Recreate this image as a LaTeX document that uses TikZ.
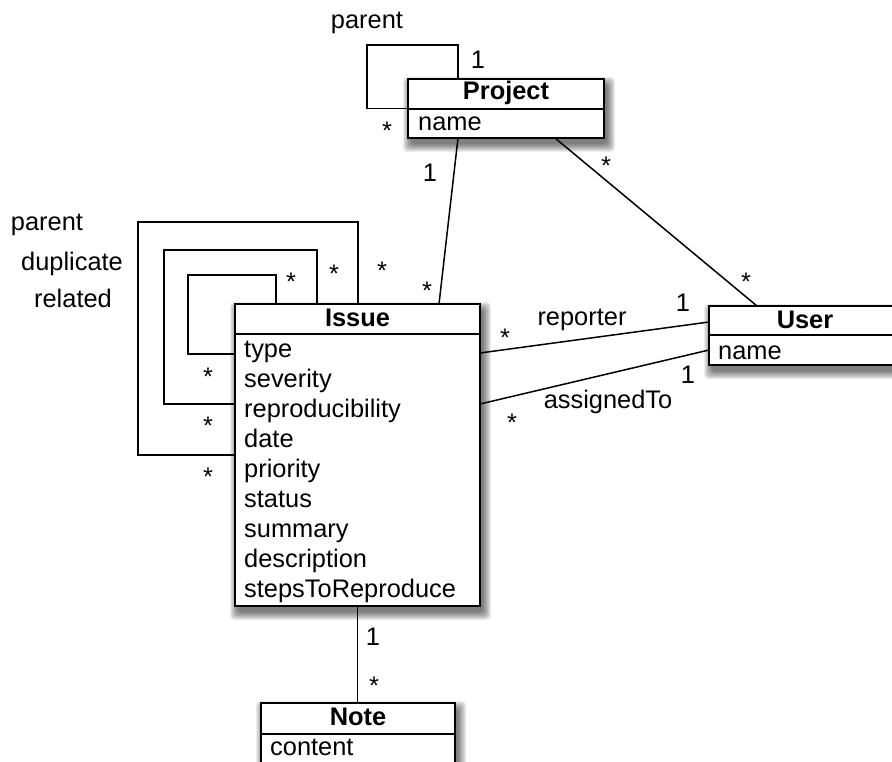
\documentclass[tikz,border=0pt]{standalone}
\usepackage{fontspec}
\setmainfont{Liberation Sans}
\usetikzlibrary{calc}
\pgfdeclarelayer{bg}
\pgfsetlayers{bg,main}

% soft drop shadow built from stacked translucent rectangles
\newcommand\softshadow[1]{%
  \foreach \r in {0,1,...,8}
    \fill[black, opacity=0.075, rounded corners=4pt]
      ($(#1.north west)+(3-8+\r,6-8+\r)$) rectangle ($(#1.south east)+(3+8-\r,6+8-\r)$);}

\begin{document}
\begin{tikzpicture}[x=1pt,y=-1pt,
  classbox/.style={draw, line width=1.7pt, fill=white, inner sep=0pt, outer sep=0pt,
    anchor=north west},
  divider/.style={line width=1.7pt},
  title/.style={font=\fontsize{25.4}{30}\selectfont\bfseries, anchor=base, inner sep=0pt},
  attr/.style={font=\fontsize{25.4}{30}\selectfont, anchor=base west, inner sep=0pt},
  lbl/.style={font=\fontsize{25.4}{30}\selectfont, anchor=base, inner sep=0pt},
  assoc/.style={line width=1.5pt},
  selfloop/.style={line width=1.6pt}]
\useasboundingbox (0,0) rectangle (892,762);
\clip (0,0) rectangle (892,762);

% ---------- classes ----------
\node[classbox, minimum width=196pt, minimum height=59pt] (project) at (408,79) {};
\draw[divider] ($(project.north west)+(0,30)$) -- ($(project.north east)+(0,30)$);
\node[title] (projectT) at (506,100) {Project};
\node[attr] (projectA) at (418,131) {name};

\node[classbox, minimum width=245pt, minimum height=302pt] (issue) at (235,304) {};
\draw[divider] ($(issue.north west)+(0,30)$) -- ($(issue.north east)+(0,30)$);
\node[title] (issueT) at (357.5,326) {Issue};
\foreach \t [count=\i from 0] in {type,severity,reproducibility,date,priority,status,summary,description,stepsToReproduce}
  \node[attr] (issueA\i) at (244,357+30.1*\i) {\t};

\node[classbox, minimum width=250pt, minimum height=59pt] (user) at (709,306) {};
\draw[divider] ($(user.north west)+(0,29)$) -- ($(user.north east)+(0,29)$);
\node[title] (userT) at (805,328) {User};
\node[attr] (userA) at (718,359) {name};

\node[classbox, minimum width=194pt, minimum height=90pt] (note) at (261,703) {};
\draw[divider] ($(note.north west)+(0,31)$) -- ($(note.north east)+(0,31)$);
\node[title] (noteT) at (358,725) {Note};
\node[attr] (noteA) at (270,755) {content};

% ---------- shadows and self associations, behind the boxes ----------
\begin{pgfonlayer}{bg}
  \softshadow{project}
  \softshadow{issue}
  \softshadow{user}
  \softshadow{note}
  \draw[selfloop] ($(project.north west)+(50,0)$) |- (367,45) |- (project.west);
  \draw[selfloop] ($(issue.north west)+(123,0)$) |- (138,222) |- ($(issue.north west)+(0,151)$);
  \draw[selfloop] ($(issue.north west)+(82,0)$) |- (164,250) |- ($(issue.north west)+(0,100)$);
  \draw[selfloop] ($(issue.north west)+(41,0)$) |- (188,275) |- ($(issue.north west)+(0,50)$);
\end{pgfonlayer}

% ---------- associations ----------
\draw[assoc] ($(project.south west)+(50,0)$) -- ($(issue.north west)+(204,0)$);
\draw[assoc] ($(project.south west)+(147,0)$) -- ($(user.north west)+(48,0)$);
\draw[assoc] ($(issue.north east)+(0,49)$) -- ($(user.north west)+(0,16)$);
\draw[assoc] ($(issue.north east)+(0,100)$) -- ($(user.north west)+(0,44)$);
\draw[assoc] (issue.south) -- (issue.south |- note.north);

% ---------- role names ----------
\node[lbl] (rParentP) at (367,29) {parent};
\node[lbl] (rParentI) at (47,231) {parent};
\node[lbl] (rDup) at (72,271) {duplicate};
\node[lbl] (rRel) at (73,308) {related};
\node[lbl] (rRep) at (582,325) {reporter};
\node[lbl] (rAss) at (608,408) {assignedTo};

% ---------- multiplicities ----------
\node[lbl] (m1) at (478,69) {1};
\node[lbl] (m2) at (387,139.6) {*};
\node[lbl] (m3) at (430,182) {1};
\node[lbl] (m4) at (427,299.6) {*};
\node[lbl] (m5) at (606,174.6) {*};
\node[lbl] (m6) at (746,290.6) {*};
\node[lbl] (m7) at (291,290.6) {*};
\node[lbl] (m8) at (334,282.6) {*};
\node[lbl] (m9) at (382,279.6) {*};
\node[lbl] (m10) at (208,385.6) {*};
\node[lbl] (m11) at (208,434.6) {*};
\node[lbl] (m12) at (208,485.6) {*};
\node[lbl] (m13) at (683,312) {1};
\node[lbl] (m14) at (505,346.6) {*};
\node[lbl] (m15) at (688,383) {1};
\node[lbl] (m16) at (512,431.6) {*};
\node[lbl] (m17) at (373,645) {1};
\node[lbl] (m18) at (374,694.6) {*};
\end{tikzpicture}
\end{document}
